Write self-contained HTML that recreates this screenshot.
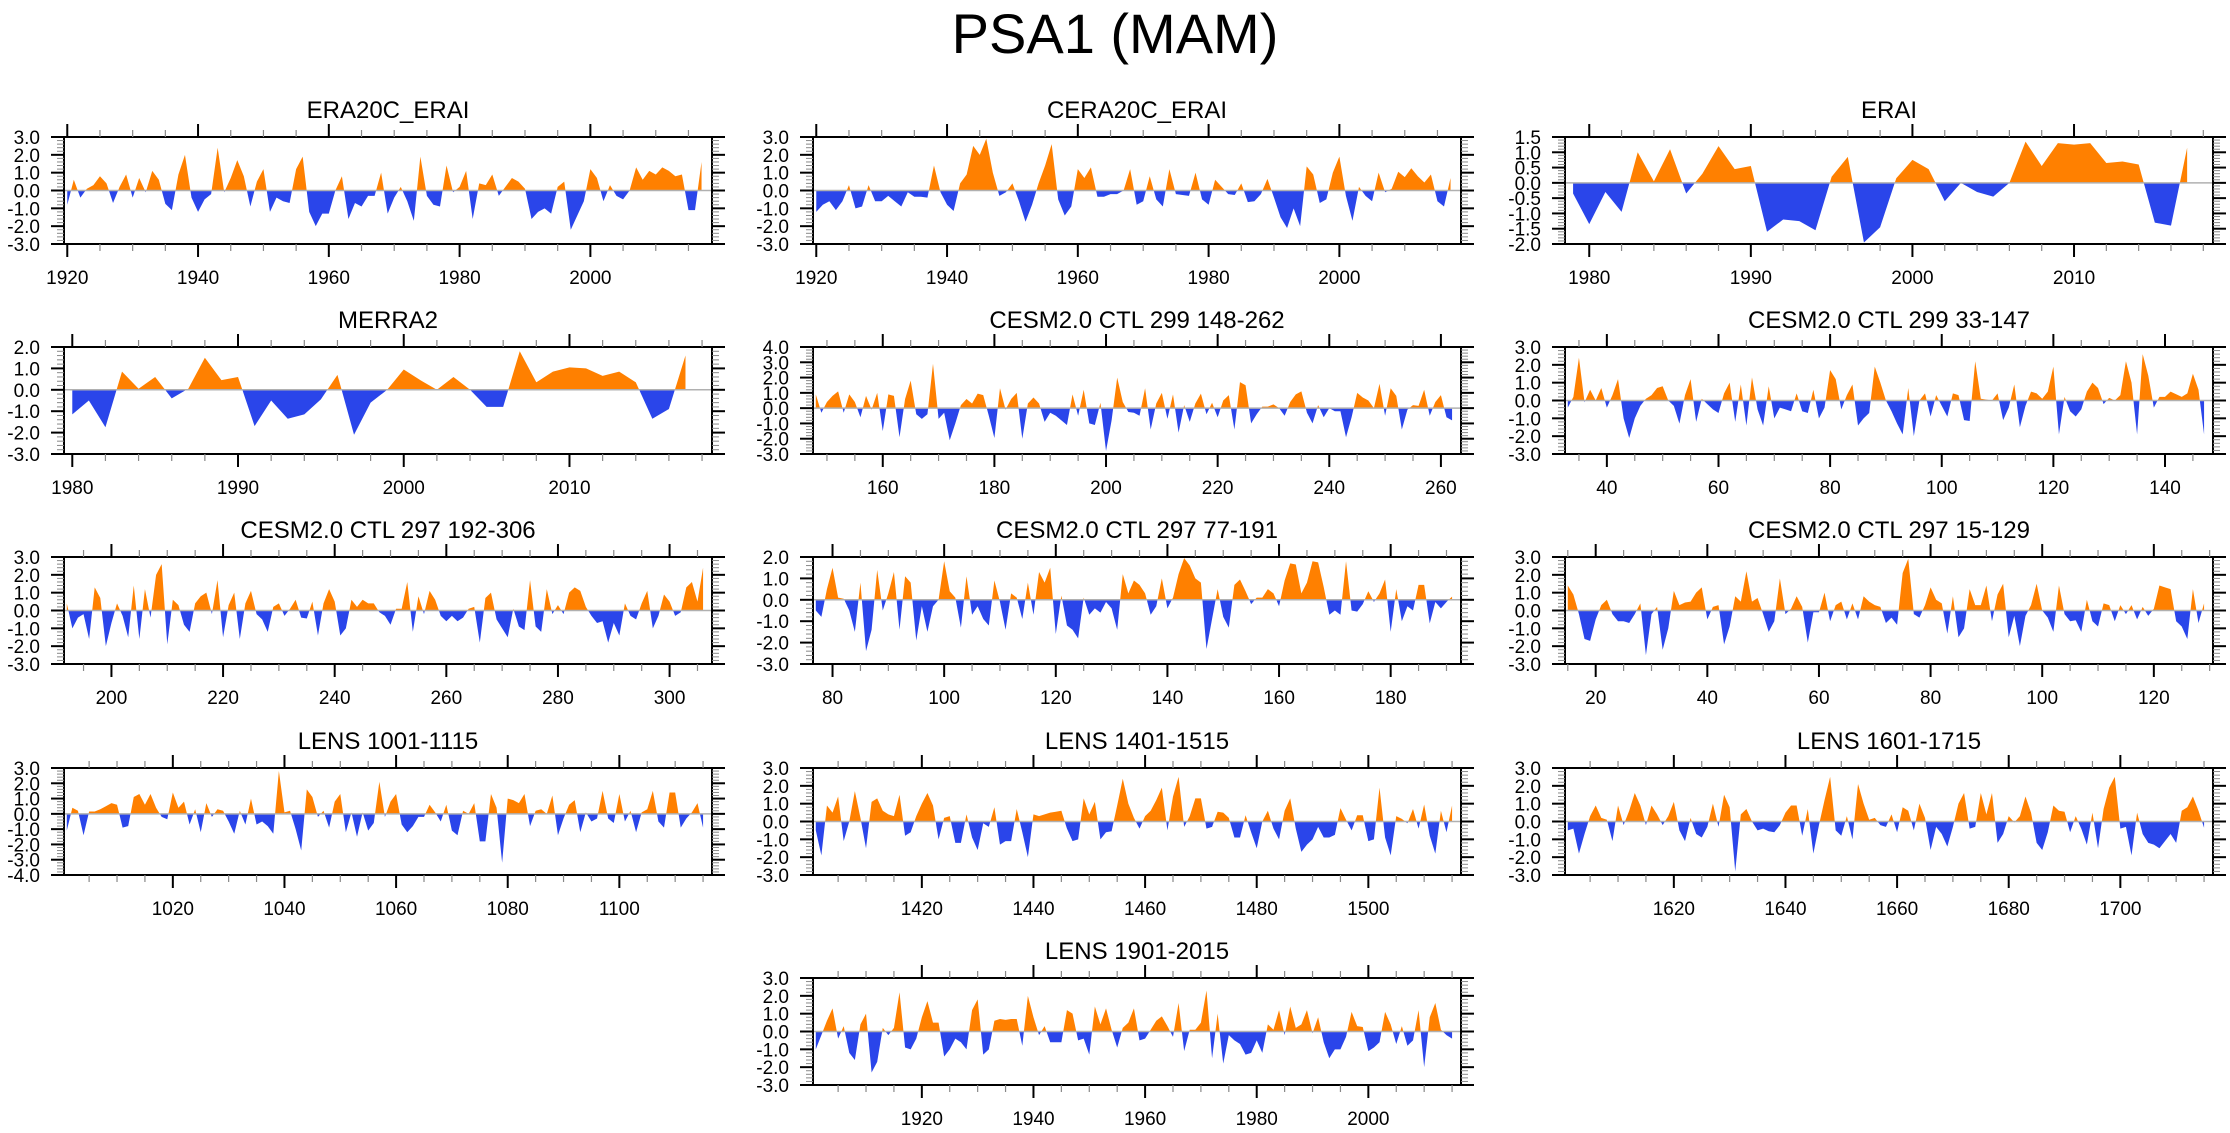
<!DOCTYPE html>
<html><head><meta charset="utf-8"><title>PSA1 (MAM)</title>
<style>
html,body{margin:0;padding:0;background:#fff;}
svg{display:block;font-family:"Liberation Sans",Arial,sans-serif;}
</style></head>
<body>
<svg id="fig" width="2230" height="1133" viewBox="0 0 2230 1133" xmlns="http://www.w3.org/2000/svg">
<rect x="0" y="0" width="2230" height="1133" fill="#fff"/>
<text x="1115" y="53" text-anchor="middle" font-size="56" fill="#000">PSA1 (MAM)</text>
</svg>
<script>
const era20cErai = [-0.8,0.6,-0.4,0.1,0.3,0.8,0.4,-0.7,0.2,0.9,-0.4,0.7,-0.1,1.1,0.6,-0.75,-1.1,0.9,2.0,-0.4,-1.2,-0.5,-0.2,2.4,-0.1,0.7,1.7,0.8,-0.9,0.5,1.2,-1.2,-0.4,-0.6,-0.7,1.2,1.9,-1.2,-2.0,-1.3,-1.3,0.0,0.8,-1.6,-0.7,-0.9,-0.3,-0.3,1.0,-1.3,-0.4,0.2,-0.6,-1.7,1.9,-0.3,-0.8,-0.9,1.4,-0.1,0.2,1.1,-1.6,0.4,0.3,0.9,-0.3,0.2,0.7,0.5,0.1,-1.6,-1.2,-1.0,-1.3,0.2,0.5,-2.2,-1.4,-0.6,1.2,0.7,-0.6,0.3,-0.3,-0.5,0.0,1.3,0.6,1.1,0.9,1.3,1.1,0.8,0.9,-1.1,-1.1,1.6];
const cera20cErai = [-1.2,-0.8,-0.6,-1.1,-0.6,0.3,-1.0,-0.9,0.3,-0.6,-0.6,-0.3,-0.6,-0.9,-0.1,-0.35,-0.35,-0.4,1.4,-0.1,-0.8,-1.15,0.4,0.9,2.5,2.0,2.9,1.0,-0.3,-0.1,0.4,-0.6,-1.75,-0.8,0.4,1.4,2.6,-0.5,-1.4,-0.9,1.2,0.7,1.3,-0.35,-0.35,-0.2,-0.2,0.0,1.2,-0.8,-0.6,0.8,-0.5,-0.9,1.2,-0.2,-0.25,-0.3,1.0,-0.5,-0.8,0.6,0.2,-0.2,-0.25,0.4,-0.65,-0.6,-0.2,0.65,-0.4,-1.5,-2.1,-1.0,-2.0,1.35,0.9,-0.7,-0.5,1.0,1.9,-0.3,-1.7,0.2,-0.3,-0.6,1.0,-0.1,0.1,1.05,0.75,1.25,0.8,0.45,0.9,-0.6,-0.9,0.7];
const erai = [-0.35,-1.35,-0.3,-0.95,1.0,0.05,1.1,-0.35,0.3,1.2,0.45,0.55,-1.6,-1.2,-1.25,-1.55,0.2,0.85,-1.95,-1.45,0.15,0.75,0.45,-0.6,0.0,-0.3,-0.45,0.0,1.35,0.55,1.3,1.25,1.3,0.65,0.7,0.6,-1.3,-1.4,1.15];
const merra2 = [-1.15,-0.5,-1.75,0.85,0.05,0.6,-0.4,0.05,1.5,0.45,0.6,-1.7,-0.5,-1.35,-1.15,-0.45,0.7,-2.1,-0.6,0.0,0.95,0.45,0.0,0.6,0.0,-0.8,-0.8,1.8,0.35,0.85,1.05,1.0,0.65,0.85,0.35,-1.35,-0.9,1.6];
const cesm299a = [0.9,-0.3,0.4,0.8,1.1,-0.3,0.9,0.4,-0.6,0.8,-0.1,1.0,-1.5,0.9,0.8,-1.9,0.6,1.8,-0.4,-0.7,-0.4,2.9,-0.7,-0.3,-2.1,-1.0,0.2,0.6,0.3,0.95,0.85,-0.5,-1.95,1.3,-0.1,0.6,1.0,-2.0,0.3,0.7,0.3,-0.9,-0.3,-0.5,-0.8,-1.1,0.9,-0.5,1.2,-1.0,-1.1,0.35,-2.8,-0.8,2.0,0.4,-0.25,-0.3,-0.5,1.3,-1.4,0.3,1.0,-0.7,0.9,-1.6,0.2,-0.9,0.3,0.95,-0.4,0.35,-0.6,0.5,0.85,-1.4,1.7,1.5,-1.0,-0.4,0.1,0.1,0.25,0.0,-0.5,0.4,0.9,1.1,-0.3,-1.0,0.2,-0.6,0.0,-0.2,-0.2,-1.9,-0.6,1.0,0.7,0.5,0.0,1.6,-0.5,1.3,0.8,-1.4,-0.1,0.2,0.15,1.2,-0.5,0.4,0.85,-0.6,-0.8];
const cesm299b = [-0.4,0.2,2.4,-0.1,0.6,0.0,0.7,-0.4,0.3,1.2,-1.0,-2.1,-1.0,-0.3,0.1,0.3,0.7,0.8,0.0,-0.3,-1.3,0.3,1.2,-1.2,0.1,-0.2,-0.5,-0.7,0.4,1.0,-1.2,0.9,-1.4,1.3,-0.5,-1.4,0.8,-1.0,-0.4,-0.5,-0.6,0.4,-0.6,-0.7,0.6,-1.0,-0.4,1.7,1.2,-0.5,0.3,0.9,-1.4,-1.0,-0.7,1.9,1.0,0.0,-0.6,-1.3,-1.9,0.7,-2.0,0.0,0.4,-0.9,0.3,-0.3,-0.9,0.4,0.3,-1.1,-1.15,2.2,0.1,0.05,0.0,0.4,-1.1,-0.4,0.9,-1.5,-0.3,0.5,0.4,0.1,0.5,1.9,-1.9,0.2,-0.6,-0.9,-0.5,0.5,1.0,0.7,-0.2,0.15,0.0,0.3,2.2,1.0,-1.9,2.6,1.4,-0.4,0.2,0.2,0.5,0.35,0.2,0.4,1.5,0.6,-1.9];
const cesm297a = [0.4,-1.0,-0.4,-0.2,-1.6,1.3,0.7,-2.0,-0.7,0.4,-0.3,-1.5,1.4,-1.6,1.2,-0.4,2.0,2.6,-1.9,0.6,0.3,-0.8,-1.2,0.4,0.8,1.0,-0.2,1.7,-1.5,0.3,1.0,-1.6,0.4,1.1,-0.2,-0.5,-1.2,0.2,0.4,-0.3,0.1,0.6,-0.4,-0.45,0.5,-1.4,0.4,1.2,0.5,-1.4,-1.0,0.6,0.2,0.6,0.4,0.4,-0.1,-0.3,-0.8,0.1,0.1,1.6,-1.2,0.8,-0.2,1.1,0.6,-0.3,-0.6,-0.3,-0.6,-0.4,0.1,0.2,-1.8,0.7,1.0,-0.5,-1.0,-1.5,0.1,-0.9,-1.1,1.7,-0.9,-1.2,1.2,-0.2,0.3,-0.2,1.0,1.3,1.1,0.2,-0.3,-0.7,-0.6,-1.8,-0.7,-1.4,0.4,-0.3,-0.5,0.4,1.1,-1.0,-0.3,0.9,0.5,-0.3,-0.1,1.3,1.6,0.5,2.4];
const cesm297b = [-0.5,-0.8,0.5,1.5,0.1,0.05,-0.5,-1.5,0.8,-2.4,-1.4,1.4,-0.5,0.3,1.3,-1.4,1.1,0.8,-1.9,-0.3,-1.5,-0.3,0.0,1.8,0.4,0.1,-1.3,1.1,-0.7,-0.3,-0.9,-1.2,0.9,-0.1,-1.4,0.3,0.1,-0.9,0.8,-0.7,1.3,0.8,1.5,-1.6,0.2,-1.2,-1.4,-1.8,0.1,-0.7,-0.4,-0.6,-0.1,-0.4,-1.4,1.2,0.3,0.9,0.7,0.3,-0.7,-0.3,1.0,-0.4,0.1,1.2,1.95,1.6,1.0,0.8,-2.3,-0.9,0.5,-0.8,-1.3,0.7,0.95,0.4,-0.2,0.1,0.1,0.5,0.3,-0.3,0.9,1.7,1.65,0.3,0.8,1.8,1.75,0.6,-0.7,-0.5,-0.7,1.8,-0.5,-0.55,-0.2,0.4,-0.1,0.3,0.95,-1.5,0.5,-1.0,-0.3,-0.5,0.7,0.7,-1.1,-0.1,-0.4,-0.1,0.15];
const cesm297c = [1.4,0.9,-0.2,-1.6,-1.7,-0.5,0.3,0.6,-0.2,-0.6,-0.6,-0.7,-0.2,0.4,-2.5,-0.2,0.2,-2.2,-1.0,1.1,0.3,0.45,0.5,1.0,1.3,-0.5,0.2,0.3,-1.9,-0.9,0.8,0.5,2.2,0.5,0.7,-0.2,-1.2,-0.6,1.8,-0.2,0.1,0.8,0.2,-1.8,-0.1,-0.1,1.0,-0.6,0.3,0.5,-0.5,0.4,-0.5,0.8,0.5,0.3,0.2,-0.7,-0.4,-0.8,2.1,2.9,-0.2,-0.4,0.3,1.3,0.6,0.4,-1.3,0.8,-1.5,-1.0,1.2,0.3,0.3,1.4,-0.6,0.9,1.5,-1.5,-0.3,-2.0,-0.3,0.3,1.5,0.0,-0.4,-1.2,1.4,-0.2,-0.6,-0.55,-1.2,0.6,-0.6,-0.9,0.4,0.3,-0.6,0.3,-0.2,0.3,-0.5,0.2,-0.3,0.1,1.4,1.3,1.2,-0.6,-0.9,-1.6,1.2,-0.7,0.4];
const lens1001 = [-1.1,0.4,0.2,-1.4,0.15,0.15,0.3,0.5,0.7,0.6,-0.9,-0.8,1.1,1.3,0.6,1.3,0.4,-0.2,-0.35,1.4,0.4,0.8,-0.7,0.3,-1.2,0.7,-0.2,0.3,0.2,-0.5,-1.3,0.2,-0.7,1.0,-0.7,-0.5,-0.8,-1.3,2.8,0.1,0.2,-1.0,-2.4,1.6,1.1,-0.2,0.2,-0.9,0.8,1.3,-1.2,0.1,-1.5,0.1,-1.1,-0.6,2.1,-0.2,0.8,1.3,-0.7,-1.2,-0.8,-0.2,-0.2,0.6,0.1,-0.5,0.6,-1.1,-1.4,0.2,0.0,0.7,-1.8,-1.8,1.3,0.4,-3.2,1.0,0.9,0.7,1.3,-0.8,0.2,0.3,0.0,1.2,-1.4,-0.3,0.6,0.9,-1.2,0.1,-0.5,-0.3,1.5,-0.3,-0.6,1.3,-0.5,0.2,-1.2,0.1,0.3,1.5,-0.5,-0.9,1.4,1.4,-0.9,-0.3,0.1,0.7,-0.9];
const lens1401 = [-0.5,-1.9,0.9,0.5,1.4,-1.1,0.0,1.7,0.2,-1.5,1.1,1.3,0.6,0.4,0.3,1.5,-0.8,-0.6,0.3,1.0,1.6,0.9,-1.0,0.2,0.3,-1.2,-1.2,0.4,-0.9,-1.6,-0.1,-0.3,0.8,-1.3,-1.1,-1.1,0.7,-0.6,-2.0,0.4,0.3,0.4,0.5,0.55,0.6,-0.4,-1.1,-1.0,1.3,0.4,1.1,-1.0,-0.6,-0.55,0.9,2.4,1.0,0.2,-0.4,0.3,0.6,1.2,1.9,-0.5,1.4,2.5,-0.3,0.3,1.3,1.3,-0.4,-0.3,0.55,0.5,0.2,-0.9,-0.9,0.35,-0.6,-1.5,0.0,0.6,-0.4,-1.0,0.6,1.3,-0.4,-1.7,-1.3,-1.0,-0.3,-0.9,-0.9,-0.75,0.75,0.1,-0.5,0.35,0.35,-1.1,-1.0,1.9,-0.9,-1.9,0.3,0.15,-0.1,0.7,-0.4,0.95,-0.8,-1.8,0.6,-0.6,0.9];
const lens1601 = [-0.5,-0.4,-1.8,-0.7,0.3,0.9,0.2,0.1,-1.1,0.9,-0.2,0.6,1.6,0.9,-0.2,0.9,0.4,-0.2,0.3,1.1,-0.5,-1.1,0.2,-0.7,-0.9,-0.3,1.0,-0.3,1.5,0.8,-2.8,0.4,0.7,0.0,-0.5,-0.4,-0.55,-0.6,-0.2,0.5,0.9,0.9,-0.8,0.7,-1.8,-0.2,1.2,2.5,-0.5,-0.8,0.3,-1.0,2.1,1.0,0.1,0.2,-0.2,-0.3,0.4,-0.6,0.8,0.6,-0.5,1.0,0.2,-1.6,-0.3,-0.7,-1.4,-0.3,1.0,1.6,-0.4,-0.3,1.6,0.4,1.6,-1.2,-0.7,0.3,-0.05,0.3,1.4,0.5,-1.2,-1.6,-0.6,0.9,0.6,0.55,-0.6,0.3,-0.4,-1.3,0.5,-1.5,0.7,1.9,2.5,-0.4,-0.3,-1.9,0.5,-0.7,-1.2,-1.3,-1.5,-1.1,-0.7,-1.2,0.6,0.8,1.4,0.6,-0.35];
const lens1901 = [-1.0,-0.2,0.6,1.3,-0.4,0.3,-1.2,-1.6,0.4,1.0,-2.3,-1.7,0.2,-0.2,0.2,2.2,-0.9,-1.0,-0.4,0.8,1.7,0.5,0.5,-1.4,-1.0,-0.4,-0.6,-1.0,1.2,1.8,-1.3,-1.0,0.6,0.7,0.65,0.7,0.7,-0.8,2.0,0.8,-0.2,0.3,-0.6,-0.6,-0.6,1.2,1.0,-0.5,-0.4,-1.3,1.4,0.4,1.3,0.1,-0.9,0.2,0.5,1.3,-0.5,-0.4,0.1,0.6,0.85,0.3,-0.3,1.6,-1.1,0.1,0.1,0.5,2.3,-1.5,1.0,-1.8,-0.2,-0.5,-0.7,-1.3,-1.2,-0.5,-1.2,0.4,0.1,1.2,-0.2,1.4,0.2,0.4,1.2,-0.1,0.8,-0.6,-1.5,-1.0,-1.0,-0.3,1.1,0.3,0.25,-1.1,-0.9,-0.6,1.1,0.4,-0.7,0.3,-0.8,-0.5,1.2,-2.0,0.8,1.6,0.1,-0.2,-0.4];

const startYears = [1920,1920,1979,1980,148,33,192,77,15,1001,1401,1601,1901];
const panelTitles = ["ERA20C_ERAI","CERA20C_ERAI","ERAI","MERRA2","CESM2.0 CTL 299 148-262","CESM2.0 CTL 299 33-147","CESM2.0 CTL 297 192-306","CESM2.0 CTL 297 77-191","CESM2.0 CTL 297 15-129","LENS 1001-1115","LENS 1401-1515","LENS 1601-1715","LENS 1901-2015"];
const seriesList = [era20cErai,cera20cErai,erai,merra2,cesm299a,cesm299b,cesm297a,cesm297b,cesm297c,lens1001,lens1401,lens1601,lens1901];
const yMins = [-3,-3,-2,-3,-3,-3,-3,-3,-3,-4,-3,-3,-3];
const yMaxs = [3,3,1.5,2,4,3,3,2,3,3,3,3,3];
const yMajorSteps = [1,1,0.5,1,1,1,1,1,1,1,1,1,1];
const xMajorSteps = [20,20,10,10,20,20,20,20,20,20,20,20,20];
const xMinorSteps = [5,5,2,2,5,5,5,5,5,5,5,5,5];

const colLeft = [64,813,1565];
const rowTop = [137,347,557,768,978];
const panelCol = [0,1,2,0,1,2,0,1,2,0,1,2,1];
const panelRow = [0,0,0,1,1,1,2,2,2,3,3,3,4];
const PW = 648, PH = 107;
const ORANGE = "#FF8000", BLUE = "#2A45EA";
const NS = "http://www.w3.org/2000/svg";
const svg = document.getElementById('fig');

function mk(tag, attrs, parent){
  const e = document.createElementNS(NS, tag);
  for (const k in attrs) e.setAttribute(k, attrs[k]);
  (parent||svg).appendChild(e);
  return e;
}
function slug(s){return s.toLowerCase().replace(/[^a-z0-9]+/g,'-').replace(/^-|-$/g,'');}

for (let p = 0; p < seriesList.length; p++){
  const data = seriesList[p];
  const start = startYears[p];
  const end = start + data.length - 1;
  const L = colLeft[panelCol[p]], T = rowTop[panelRow[p]];
  const x0 = start - 0.5, x1 = end + 1.6;
  const yMin = yMins[p], yMax = yMaxs[p];
  const xs = v => L + (v - x0) / (x1 - x0) * PW;
  const ys = v => T + (yMax - v) / (yMax - yMin) * PH;
  const g = mk('g', {});
  
  

  const title = mk('text', {x: L + PW/2, y: T - 19, 'text-anchor':'middle', 'font-size':24, fill:'#000'}, g);
  title.textContent = panelTitles[p];
  
  

  const pts = [];
  for (let i = 0; i < data.length; i++){
    const xv = start + i, v = data[i];
    if (i > 0){
      const pv = data[i-1];
      if ((pv > 0 && v < 0) || (pv < 0 && v > 0)){
        const t = pv / (pv - v);
        pts.push([xv - 1 + t, 0]);
      }
    }
    pts.push([xv, v]);
  }
  function areaPath(sign){
    let d = 'M' + xs(pts[0][0]).toFixed(2) + ',' + ys(0).toFixed(2);
    for (const q of pts){
      const v = sign > 0 ? Math.max(q[1],0) : Math.min(q[1],0);
      d += 'L' + xs(q[0]).toFixed(2) + ',' + ys(v).toFixed(2);
    }
    d += 'L' + xs(pts[pts.length-1][0]).toFixed(2) + ',' + ys(0).toFixed(2) + 'Z';
    return d;
  }
  const pos = mk('path', {d: areaPath(1), fill: ORANGE, stroke:'none'}, g);
  
  
  const neg = mk('path', {d: areaPath(-1), fill: BLUE, stroke:'none'}, g);
  
  

  const zl = mk('line', {x1: L, x2: L+PW, y1: ys(0), y2: ys(0), stroke:'#b0b0b0', 'stroke-width':1.5}, g);
  
  

  const box = mk('rect', {x: L, y: T, width: PW, height: PH, fill:'none', stroke:'#000', 'stroke-width':2}, g);
  
  

  const yStep = yMajorSteps[p], yMinor = yStep / 5;
  const yAxis = mk('g', {}, g);
  
  
  const nMinor = Math.round((yMax - yMin) / yMinor);
  for (let k = 0; k <= nMinor; k++){
    const v = yMin + k * yMinor;
    const yy = ys(v);
    const isMajor = k % 5 === 0;
    const len = isMajor ? 13 : 7;
    mk('line', {x1: L - len, x2: L, y1: yy, y2: yy, stroke: isMajor ? '#000' : '#888', 'stroke-width': isMajor ? 2 : 1}, yAxis);
    mk('line', {x1: L + PW, x2: L + PW + len, y1: yy, y2: yy, stroke: isMajor ? '#000' : '#888', 'stroke-width': isMajor ? 2 : 1}, yAxis);
    if (isMajor){
      const lbl = mk('text', {x: L - 24, y: yy + 7, 'text-anchor':'end', 'font-size':19, fill:'#000'}, yAxis);
      lbl.textContent = v.toFixed(1);
      
      
    }
  }

  const xAxis = mk('g', {}, g);
  
  
  const xm = xMinorSteps[p], xM = xMajorSteps[p];
  for (let v = Math.ceil(x0 / xm) * xm; v <= x1; v += xm){
    const xx = xs(v);
    const isMajor = v % xM === 0;
    const len = isMajor ? 13 : 7;
    mk('line', {x1: xx, x2: xx, y1: T - len, y2: T, stroke: isMajor ? '#000' : '#888', 'stroke-width': isMajor ? 2 : 1.2}, xAxis);
    mk('line', {x1: xx, x2: xx, y1: T + PH, y2: T + PH + len, stroke: isMajor ? '#000' : '#888', 'stroke-width': isMajor ? 2 : 1.2}, xAxis);
    if (isMajor){
      const lbl = mk('text', {x: xx, y: T + PH + 40, 'text-anchor':'middle', 'font-size':19, fill:'#000'}, xAxis);
      lbl.textContent = String(v);
      
      
    }
  }
}
</script>
</body></html>
